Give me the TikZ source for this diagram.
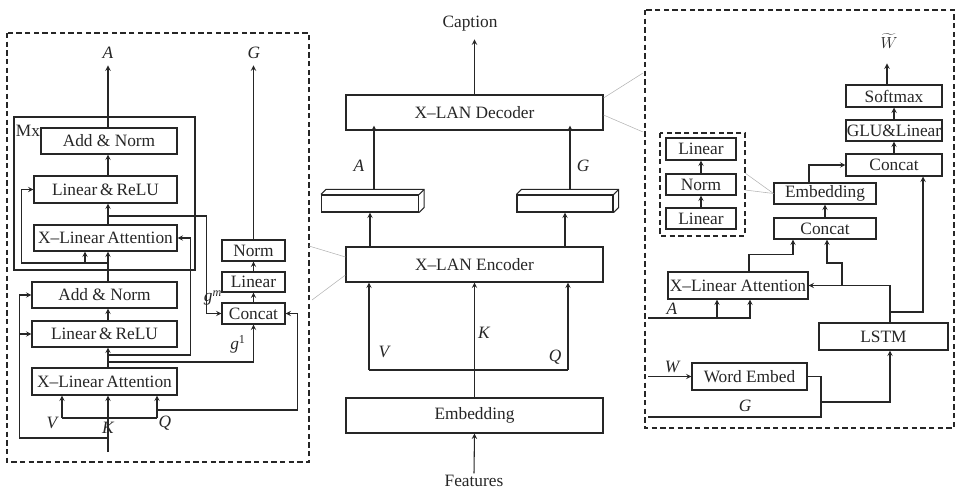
\documentclass[tikz,border=0pt]{standalone}
\usepackage{fontspec}
\setmainfont{Liberation Serif}
\usetikzlibrary{positioning}
\begin{document}
\begin{tikzpicture}[
    x=0.75pt, y=-0.75pt,
    font=\fontsize{13}{15}\selectfont,
    color=black!85, line width=0.8pt,
    >=stealth,
    box/.style 2 args={draw, minimum width=#1*0.75pt, minimum height=#2*0.75pt, inner sep=0pt},
    lab/.style={inner sep=1pt, font=\fontsize{13}{15}\selectfont\itshape},
    frame/.style={dash pattern=on 4pt off 2.5pt, line width=0.9pt},
    link/.style={draw=black!30, line width=0.4pt}
  ]
  \useasboundingbox (0,0) rectangle (959,491);

  % left: encoder detail
  \draw[frame] (7,33) rectangle (309,462);
  \draw (14,117) rectangle (195,270);
  \node[inner sep=0pt] (mx) at (28,131) {Mx};
  \coordinate (tk) at (108,0);
  \node[box={136}{26}] (an2) at (109,141) {Add \& Norm};
  \node[box={143}{27}] (lr2) at (105.5,189.5) {Linear\,\&\,ReLU};
  \node[box={143}{26}] (xa2) at (105.5,238) {X--Linear\,Attention};
  \node[box={145}{26}] (an1) at (104.5,295) {Add \& Norm};
  \node[box={145}{26}] (lr1) at (104.5,334) {Linear\,\&\,ReLU};
  \node[box={145}{27}] (xa1) at (104.5,381.5) {X--Linear\,Attention};
  \node[box={63}{21}] (norm) at (253.5,250.5) {Norm};
  \node[box={63}{20}] (lin) at (253.5,282) {Linear};
  \node[box={63}{21}] (cat) at (253.5,313.5) {Concat};
  \node[lab] (la) at (108,53) {A};
  \node[lab] (lg) at (254,53) {G};
  \node[lab] (lv) at (52,423) {V};
  \node[lab] (lk) at (108,428) {K};
  \node[lab] (lq) at (165,423) {Q};
  \node[inner sep=0pt] (gm) at (213,298) {\textit{g}\textsuperscript{\itshape m}};
  \node[inner sep=0pt] (g1) at (238,344) {\textit{g}\textsuperscript{1}};

  \coordinate (inb) at (108,452);
  \coordinate (r1) at (108,438);
  \coordinate (bv1) at (62,418);
  \coordinate (bq1) at (157,418);
  \coordinate (q1) at (157,410);
  \coordinate (b1) at (108,355);
  \coordinate (b2) at (108,362);
  \coordinate (b3) at (108,263);
  \coordinate (b4) at (108,216);
  \draw[->] (inb) -- (r1) -| ([shift={(-12,0)}]an1.west) -- (an1.west);
  \draw[->] ([shift={(-12,0)}]lr1.west) -- (lr1.west);
  \draw[->] (r1) -- (xa1.south -| tk);
  \draw (bv1) -- (bq1);
  \draw[->] (bv1) -- (bv1 |- xa1.south);
  \draw[->] (bq1) -- (bq1 |- xa1.south);
  \draw[->] (q1) -| ([shift={(12,0)}]cat.east) -- (cat.east);
  \draw[->] (xa1.north -| tk) -- (lr1.south -| tk);
  \draw[->] (b1) -| ([shift={(13,0)}]xa2.east) -- (xa2.east);
  \draw[->] (b2) -| (cat.south);
  \draw[->] (lr1.north -| tk) -- (an1.south -| tk);
  \draw[->] (an1.north -| tk) -- (xa2.south -| tk);
  \draw[->] (b3) -| ([shift={(-12,0)}]lr2.west) -- (lr2.west);
  \draw[->] (b3) -| ([shift={(-20.5,0)}]xa2.south);
  \draw[->] (xa2.north -| tk) -- (lr2.south -| tk);
  \draw[->] (b4) -| ([shift={(-15,0)}]cat.west) -- (cat.west);
  \draw[->] (lr2.north -| tk) -- (an2.south -| tk);
  \draw[->] (an2.north -| tk) -- ++(0,-62);
  \draw[->] (cat) -- (lin);
  \draw[->] (lin) -- (norm);
  \draw[->] (norm.north) -- ++(0,-174);

  % middle: X-LAN
  \node[box={257}{35}] (dec) at (474.5,112.5) {X--LAN Decoder};
  \node[box={257}{35}] (enc) at (474.5,264.5) {X--LAN Encoder};
  \node[box={257}{35}] (emb) at (474.5,415.5) {Embedding};
  \node (cap) at (470,24) {Caption};
  \node[inner sep=1pt] (feat) at (474,481) {Features};
  \node[box={97}{17}] (cubA) at (370,203.5) {};
  \node[box={96}{17}] (cubG) at (565,203.5) {};
  \foreach \c in {cubA,cubG} {
    \draw (\c.north west) -- ++(5,-5) -- ([shift={(5,-5)}]\c.north east)
      -- ([shift={(5,-5)}]\c.south east) -- (\c.south east);
    \draw (\c.north east) -- ++(5,-5);
  }
  \node[lab] (ca) at (359,166) {A};
  \node[lab] (cg) at (583,166) {G};
  \node[lab] (cv) at (384,352) {V};
  \node[lab] (ck) at (484,333) {K};
  \node[lab] (cq) at (555,357) {Q};
  \coordinate (bv) at (369,370);
  \coordinate (bq) at (568,370);
  \draw[->] (dec.north) -- ++(0,-55);
  \draw[->] ([shift={(4,-5)}]cubA.north) -- ([shift={(4,-5)}]cubA.north |- dec.south);
  \draw[->] ([shift={(5,-5)}]cubG.north) -- ([shift={(5,-5)}]cubG.north |- dec.south);
  \draw[->] (cubA.south |- enc.north) -- (cubA.south);
  \draw[->] (cubG.south |- enc.north) -- (cubG.south);
  \draw (bv) -- (bq);
  \draw[->] (bv) -- (bv |- enc.south);
  \draw[->] (bq) -- (bq |- enc.south);
  \draw[->] (emb.north) -- (enc.south);
  \draw[->] (feat.north) -- (emb.south);
  \draw[link] ([shift={(0,-7.5)}]enc.west) -- (309,246);
  \draw[link] ([shift={(0,10.5)}]enc.west) -- (312,300);
  \draw[link] ([shift={(0,-14.5)}]dec.east) -- (643,73);
  \draw[link] ([shift={(0,2.5)}]dec.east) -- (643,132);

  % right: decoder detail
  \draw[frame] (645,10) rectangle (954,428);
  \draw[frame] (660,133) rectangle (745,236);
  \node[box={70}{22}] (sl1) at (701,149) {Linear};
  \node[box={70}{21}] (sn) at (701,184.5) {Norm};
  \node[box={70}{21}] (sl2) at (701,218.5) {Linear};
  \node[box={96}{22}] (soft) at (894,96) {Softmax};
  \node[box={96}{21}] (glu) at (894,130.5) {GLU\&Linear};
  \node[box={96}{22}] (cat2) at (894,165) {Concat};
  \node[box={102}{21}] (emb2) at (825,193.5) {Embedding};
  \node[box={102}{21}] (cat3) at (825,228.5) {Concat};
  \node[box={140}{27}] (xa3) at (738,285.5) {X--Linear Attention};
  \node[box={129}{27}] (lstm) at (883.5,336.5) {LSTM};
  \node[box={115}{27}] (we) at (749.5,376.5) {Word Embed};
  \node[inner sep=0pt] (wt) at (889,41) {$\widetilde{W}$};
  \node[lab] (ra) at (672,309) {A};
  \node[lab] (rw) at (672,367) {W};
  \node[lab] (rg) at (745,406) {G};
  \draw[link] (745,173) -- (emb2.west);
  \draw[link] (745,190) -- (emb2.west);

  \coordinate (ain) at (648,318);
  \coordinate (win) at (648,376.5);
  \coordinate (gin) at (648,417);
  \coordinate (j1) at (842,285.5);
  \coordinate (j2) at (890,312);
  \coordinate (j3) at (821,402);
  \draw[->] ([shift={(-7,0)}]soft.north) -- ++(0,-21);
  \draw[->] (glu) -- (soft);
  \draw[->] (cat2) -- (glu);
  \draw[->] (sl2) -- (sn);
  \draw[->] (sn) -- (sl1);
  \draw[->] (cat3) -- (emb2);
  \draw[->] ([shift={(-16,0)}]emb2.north) |- (cat2.west);
  \draw[->] ([shift={(11,0)}]xa3.north) |- ++(44,-17) -- ([shift={(-32,0)}]cat3.south);
  \draw[->] ([shift={(6.5,0)}]lstm.north) |- (xa3.east);
  \draw[->] (j1) |- ++(-15,-22.5) -- ([shift={(2,0)}]cat3.south);
  \draw[->] (j2) -| ([shift={(29,0)}]cat2.south);
  \draw[->] (ain) -| ([shift={(12,0)}]xa3.south);
  \draw[->] ([shift={(-21,19)}]xa3.south) -- ([shift={(-21,0)}]xa3.south);
  \draw[->] (win) -- (we.west);
  \draw[->] (we.east) -| (j3) -| ([shift={(6.5,0)}]lstm.south);
  \draw (gin) -| (j3);
\end{tikzpicture}
\end{document}
